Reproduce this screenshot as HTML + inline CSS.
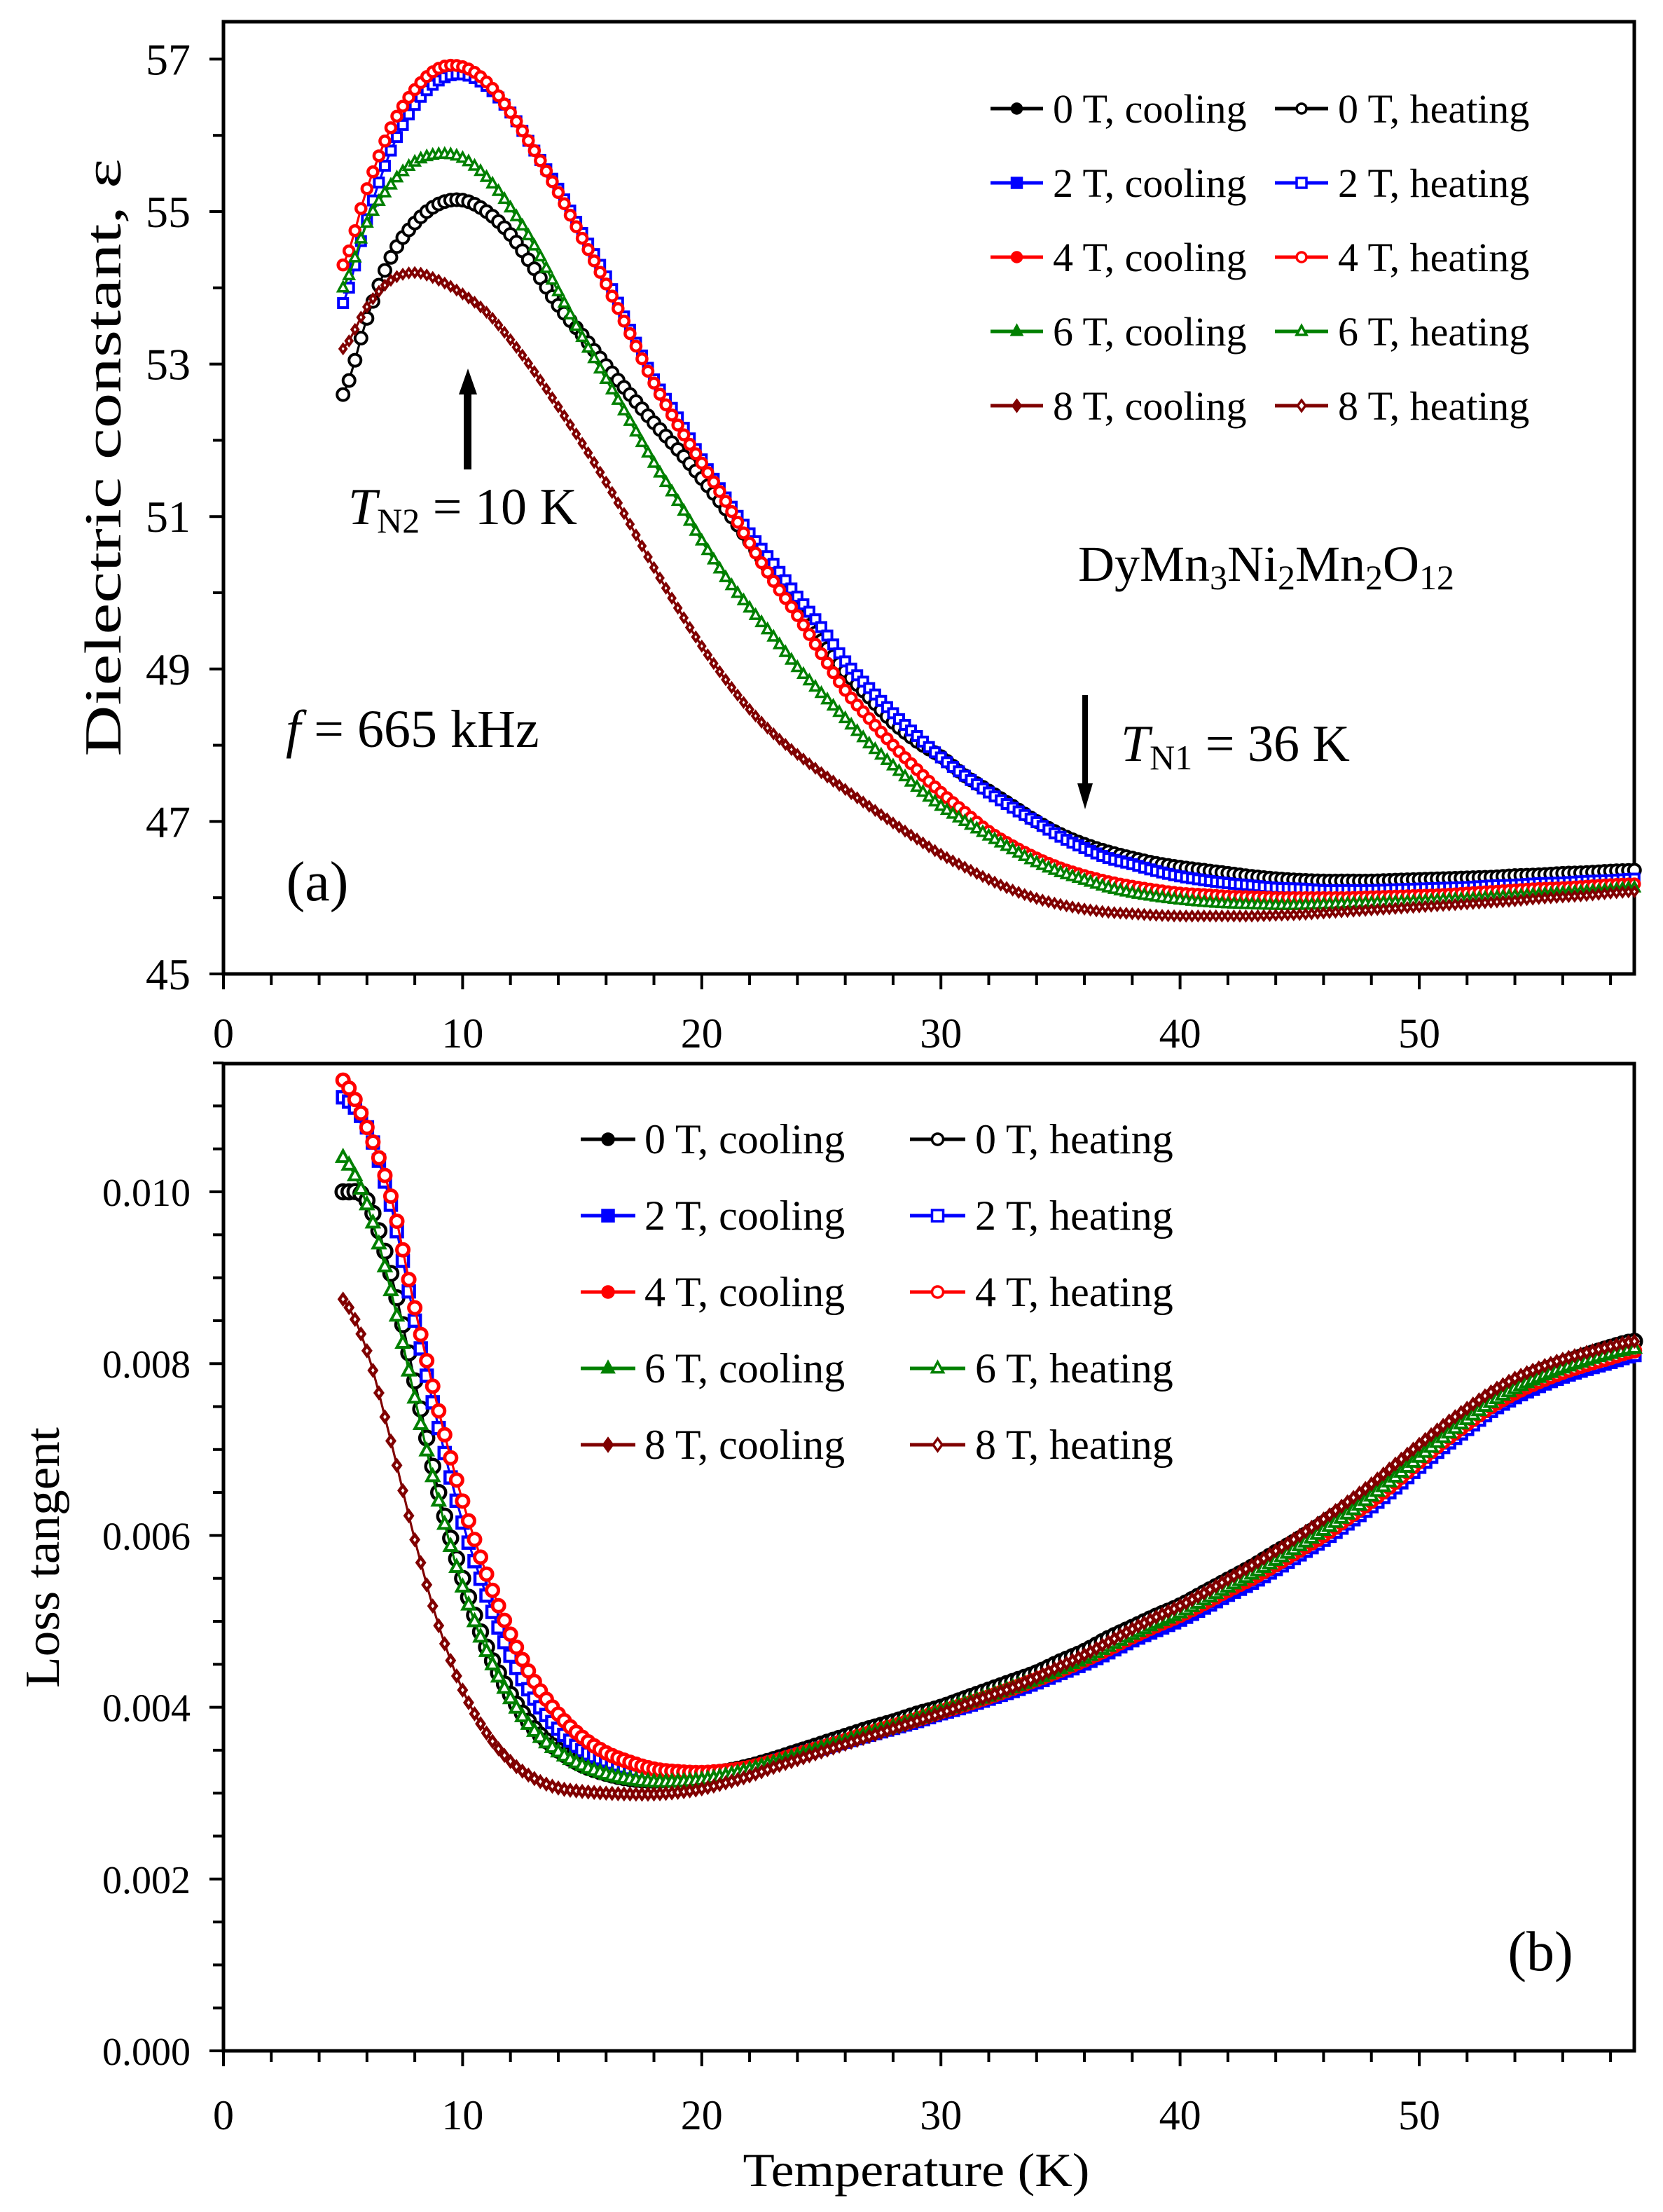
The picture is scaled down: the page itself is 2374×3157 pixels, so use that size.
<!DOCTYPE html>
<html><head><meta charset="utf-8"><title>DyMn3Ni2Mn2O12 dielectric constant and loss tangent</title>
<style>html,body{margin:0;padding:0;background:#fff}svg{display:block}text{font-family:"Liberation Serif",serif;fill:#000}</style></head>
<body>
<svg id="chart" xmlns="http://www.w3.org/2000/svg" width="2374" height="3157" viewBox="0 0 2374 3157">
<rect x="0" y="0" width="2374" height="3157" fill="#fff"/>
<g id="axes"></g><g id="series"></g><g id="legends"></g>
<text transform="translate(172,653) rotate(-90)" text-anchor="middle" font-size="74" textLength="853" lengthAdjust="spacingAndGlyphs">Dielectric constant, ε</text>
<text transform="translate(84,2223) rotate(-90)" text-anchor="middle" font-size="70" textLength="372" lengthAdjust="spacingAndGlyphs">Loss tangent</text>
<text x="1308" y="3120" text-anchor="middle" font-size="68" textLength="495" lengthAdjust="spacingAndGlyphs">Temperature (K)</text>
<text x="453" y="1285" text-anchor="middle" font-size="80">(a)</text>
<text x="2199" y="2812" text-anchor="middle" font-size="80">(b)</text>
<text x="408" y="1066" font-size="76"><tspan font-style="italic">f</tspan> = 665 kHz</text>
<text x="1539" y="829" font-size="72">DyMn<tspan font-size="50" dy="12">3</tspan><tspan dy="-12">Ni</tspan><tspan font-size="50" dy="12">2</tspan><tspan dy="-12">Mn</tspan><tspan font-size="50" dy="12">2</tspan><tspan dy="-12">O</tspan><tspan font-size="50" dy="12">12</tspan></text>
<text x="497" y="748" font-size="74"><tspan font-style="italic">T</tspan><tspan font-size="50" dy="12">N2</tspan><tspan dy="-12"> = 10 K</tspan></text>
<text x="1600" y="1086" font-size="74"><tspan font-style="italic">T</tspan><tspan font-size="50" dy="12">N1</tspan><tspan dy="-12"> = 36 K</tspan></text>
<g><rect x="662" y="560" width="11" height="110" fill="#000"/><polygon points="668,526 655,563 681,563" fill="#000"/></g>
<g><rect x="1545" y="992" width="8" height="130" fill="#000"/><polygon points="1549,1155 1538,1118 1560,1118" fill="#000"/></g>
</svg>
<script>
const temps = [5,6,7,8,9,10,11,12,13,14,15,16,17,18,19,20,21,22,23,24,25,26,27,28,29,30,31,32,33,34,35,36,37,38,39,40,41,42,43,44,45,46,47,48,49,50,51,52,53,54,55,56,57,58,59];
const fields = ["0 T","2 T","4 T","6 T","8 T"];
const eps0T = [52.6,53.6,54.4,54.85,55.1,55.15,55.0,54.7,54.25,53.77,53.38,52.98,52.6,52.23,51.88,51.5,51.1,50.67,50.23,49.78,49.37,48.97,48.63,48.3,48.05,47.85,47.6,47.4,47.2,47.0,46.83,46.7,46.6,46.52,46.45,46.4,46.36,46.32,46.28,46.25,46.23,46.22,46.22,46.22,46.23,46.24,46.25,46.26,46.27,46.29,46.3,46.32,46.33,46.35,46.36];
const eps2T = [53.8,54.9,55.8,56.4,56.72,56.8,56.65,56.3,55.8,55.3,54.72,54.15,53.45,52.8,52.3,51.75,51.25,50.78,50.38,49.95,49.55,49.1,48.75,48.42,48.12,47.84,47.6,47.38,47.18,46.99,46.8,46.65,46.52,46.44,46.35,46.28,46.23,46.19,46.16,46.13,46.12,46.1,46.1,46.1,46.11,46.12,46.13,46.14,46.16,46.17,46.19,46.2,46.22,46.23,46.25];
const eps4T = [54.3,55.3,56.1,56.6,56.88,56.9,56.7,56.3,55.8,55.25,54.65,54.05,53.4,52.75,52.2,51.7,51.2,50.65,50.15,49.7,49.2,48.72,48.35,48.0,47.68,47.38,47.12,46.87,46.68,46.52,46.39,46.29,46.21,46.15,46.1,46.06,46.04,46.02,46.01,46.0,46.0,46.0,46.0,46.01,46.02,46.03,46.04,46.06,46.08,46.1,46.12,46.13,46.15,46.17,46.18];
const eps6T = [54.0,54.85,55.35,55.65,55.75,55.7,55.45,55.05,54.55,53.95,53.35,52.8,52.25,51.7,51.2,50.68,50.2,49.8,49.42,49.02,48.68,48.35,48.02,47.73,47.45,47.2,47.0,46.81,46.63,46.46,46.33,46.23,46.13,46.06,46.01,45.97,45.94,45.92,45.91,45.9,45.9,45.91,45.92,45.93,45.94,45.95,45.97,45.98,46.0,46.02,46.04,46.06,46.08,46.1,46.13];
const eps8T = [53.2,53.75,54.1,54.2,54.1,53.92,53.68,53.32,52.9,52.44,51.96,51.45,50.9,50.33,49.8,49.3,48.86,48.47,48.15,47.88,47.64,47.42,47.2,46.98,46.77,46.57,46.4,46.24,46.1,45.99,45.91,45.85,45.81,45.79,45.77,45.76,45.76,45.76,45.76,45.77,45.78,45.8,45.82,45.84,45.86,45.88,45.9,45.92,45.94,45.96,45.99,46.01,46.03,46.06,46.08];
// loss tangent values in units of 1e-3
const tan0T = [10.0,9.9,9.05,7.8,6.5,5.5,4.7,4.15,3.75,3.5,3.33,3.23,3.17,3.15,3.17,3.2,3.25,3.31,3.39,3.48,3.57,3.66,3.75,3.83,3.92,4.0,4.1,4.2,4.3,4.4,4.53,4.65,4.8,4.93,5.06,5.18,5.33,5.48,5.63,5.8,5.96,6.14,6.33,6.53,6.76,6.99,7.21,7.41,7.61,7.77,7.9,8.0,8.1,8.19,8.26];
const tan2T = [11.1,10.75,9.85,8.5,7.25,6.15,5.3,4.6,4.1,3.75,3.5,3.38,3.29,3.23,3.2,3.2,3.23,3.28,3.36,3.44,3.52,3.6,3.68,3.76,3.84,3.93,4.01,4.1,4.19,4.29,4.4,4.51,4.64,4.78,4.9,5.02,5.16,5.31,5.45,5.61,5.78,5.95,6.14,6.34,6.56,6.8,7.03,7.24,7.45,7.61,7.74,7.85,7.94,8.02,8.1];
const tan4T = [11.3,10.75,9.95,8.65,7.45,6.4,5.55,4.85,4.3,3.92,3.65,3.47,3.36,3.28,3.25,3.24,3.26,3.3,3.37,3.45,3.53,3.61,3.7,3.78,3.86,3.95,4.03,4.12,4.22,4.32,4.43,4.55,4.68,4.82,4.95,5.07,5.21,5.36,5.5,5.66,5.83,6.0,6.2,6.4,6.62,6.86,7.09,7.3,7.5,7.66,7.79,7.9,7.99,8.07,8.15];
const tan6T = [10.4,9.85,8.85,7.6,6.4,5.4,4.65,4.1,3.72,3.48,3.32,3.22,3.16,3.13,3.13,3.15,3.2,3.27,3.35,3.43,3.52,3.6,3.69,3.77,3.86,3.95,4.04,4.13,4.23,4.33,4.45,4.57,4.71,4.85,4.98,5.1,5.25,5.4,5.55,5.71,5.88,6.06,6.25,6.46,6.68,6.91,7.14,7.35,7.55,7.71,7.84,7.95,8.04,8.12,8.18];
const tan8T = [8.75,8.15,7.1,5.95,4.95,4.2,3.7,3.37,3.17,3.06,3.02,3.0,2.99,2.99,3.01,3.05,3.12,3.2,3.3,3.39,3.48,3.57,3.66,3.75,3.84,3.93,4.03,4.13,4.23,4.35,4.48,4.61,4.76,4.91,5.05,5.18,5.33,5.49,5.65,5.82,6.0,6.19,6.39,6.6,6.83,7.06,7.28,7.48,7.67,7.83,7.95,8.05,8.13,8.2,8.26];
const epsTicks = [45,47,49,51,53,55,57];
const tanTicks = [0.000,0.002,0.004,0.006,0.008,0.010];
const xTicks = [0,10,20,30,40,50];

const NS = "http://www.w3.org/2000/svg";
const X0 = 319, X1 = 2333, XPU = 34.14;
const TOP = {y0: 31, y1: 1390}, BOT = {y0: 1518, y1: 2927};
function xS(t){ return X0 + t*XPU; }
function yEps(e){ return 1390 - (e-45)*108.8; }
function yTan(v){ return 2927 - v*122600; }
function yTanMilli(m){ return yTan(m*1e-3); }
function mk(tag, attrs, parent){ const el=document.createElementNS(NS,tag); for(const k in attrs) el.setAttribute(k,attrs[k]); parent.appendChild(el); return el; }

const axes = document.getElementById('axes');
function frame(p, name){
  const g = mk('g',{},axes);
  
  
  mk('rect',{x:X0,y:p.y0,width:X1-X0,height:p.y1-p.y0,fill:'none',stroke:'#000','stroke-width':5},g);
  return g;
}
function xAxis(g, p, labelY){
  for(let t=0;t<=58;t+=2){
    const major = t%10===0;
    mk('line',{x1:xS(t),x2:xS(t),y1:p.y1,y2:p.y1+(major?22:16),stroke:'#000','stroke-width':4},g);
  }
  xTicks.forEach(t=>{
    const tx = mk('text',{x:xS(t),y:labelY,'text-anchor':'middle','font-size':60},g);
    
    
    tx.textContent = t;
  });
}
const gT = frame(TOP,'plot-area-dielectric');
xAxis(gT, TOP, 1495);
for(let e=45;e<=57;e+=1){
  const major = (e-45)%2===0;
  mk('line',{x1:X0-(major?20:15),x2:X0,y1:yEps(e),y2:yEps(e),stroke:'#000','stroke-width':4},gT);
}
epsTicks.forEach(e=>{
  const tx = mk('text',{x:272,y:yEps(e)+22,'text-anchor':'end','font-size':64},gT);
  
  
  tx.textContent = e;
});
const gB = frame(BOT,'plot-area-loss');
xAxis(gB, BOT, 3039);
for(let i=0;i<=23;i++){
  const v = i*0.0005;
  const major = i%4===0;
  mk('line',{x1:X0-(major?20:15),x2:X0,y1:yTan(v),y2:yTan(v),stroke:'#000','stroke-width':4},gB);
}
tanTicks.forEach(v=>{
  const tx = mk('text',{x:272,y:yTan(v)+20,'text-anchor':'end','font-size':56},gB);
  
  
  tx.textContent = v.toFixed(3);
});

function spline(ts, vs, step){
  const out=[]; const n=vs.length;
  for(let i=0;i<n-1;i++){
    const p0=vs[Math.max(i-1,0)], p1=vs[i], p2=vs[i+1], p3=vs[Math.min(i+2,n-1)];
    for(let s=0;s<1-1e-9;s+=step){
      const v=0.5*(2*p1+(-p0+p2)*s+(2*p0-5*p1+4*p2-p3)*s*s+(-p0+3*p1-3*p2+p3)*s*s*s);
      out.push([ts[i]+s*(ts[i+1]-ts[i]), v]);
    }
  }
  out.push([ts[n-1], vs[n-1]]);
  return out;
}
const colors = ["#000000","#0000ff","#ff0000","#008000","#800000"];
const shapes = ["circle","square","circle","triangle","diamond"];
function marker(parent, shape, x, y, size, color, open, sw){
  const fill = open ? '#fff' : color;
  let el;
  if(shape==='circle') el = mk('circle',{cx:x,cy:y,r:size},parent);
  else if(shape==='square') el = mk('rect',{x:x-size,y:y-size,width:2*size,height:2*size},parent);
  else if(shape==='triangle') el = mk('polygon',{points:`${x},${y-size*1.15} ${x-size},${y+size*0.7} ${x+size},${y+size*0.7}`},parent);
  else el = mk('polygon',{points:`${x},${y-size*1.1} ${x+size*0.8},${y} ${x},${y+size*1.1} ${x-size*0.8},${y}`},parent);
  el.setAttribute('fill', fill); el.setAttribute('stroke', color); el.setAttribute('stroke-width', sw);
  return el;
}
const seriesG = document.getElementById('series');
function drawPanel(dataSets, yFn, sizes, sws, tag){
  dataSets.forEach((vals, k)=>{
    const pts = spline(temps, vals, 0.25);
    ['cooling','heating'].forEach(mode=>{
      const g = mk('g',{},seriesG);
      
      
      const d = pts.map((p,i)=>(i?'L':'M')+xS(p[0]).toFixed(1)+','+yFn(p[1]).toFixed(1)).join(' ');
      mk('path',{d:d,fill:'none',stroke:colors[k],'stroke-width':3},g);
      pts.forEach(p=>{
        const m = marker(g, shapes[k], xS(p[0]), yFn(p[1]), mode==='cooling'?sizes[k]*0.9:sizes[k], colors[k], mode==='heating', sws[k]);
        
        
      });
    });
  });
}
drawPanel([eps0T,eps2T,eps4T,eps6T,eps8T], yEps, [8.5,6.5,7,7,5.5], [4,4,4.5,3.5,4], 'dielectric');
drawPanel([tan0T,tan2T,tan4T,tan6T,tan8T], yTanMilli, [10,8,8.5,8.5,6.5], [4.5,4.5,5,4,4.5], 'loss');

const legG = document.getElementById('legends');
function legend(name, rows0, rowStep, colLine, colText, fs, msz){
  const g = mk('g',{},legG);
  
  
  fields.forEach((f,k)=>{
    ['cooling','heating'].forEach((mode,c)=>{
      const y = rows0 + k*rowStep;
      const e = mk('g',{},g);
      
      
      const [a,b] = colLine[c];
      mk('line',{x1:a,x2:b,y1:y,y2:y,stroke:colors[k],'stroke-width':5},e);
      marker(e, shapes[k], (a+b)/2, y, msz, colors[k], mode==='heating', 3.5);
      const t = mk('text',{x:colText[c],y:y+20,'font-size':fs},e);
      t.textContent = `${f}, ${mode}`;
    });
  });
}
legend('legend-dielectric', 155, 106, [[1414,1489],[1820,1896]], [1503,1910], 58, 7);
legend('legend-loss', 1626, 109, [[829,907],[1299,1378]], [920,1392], 60, 8);
</script>
</body></html>
